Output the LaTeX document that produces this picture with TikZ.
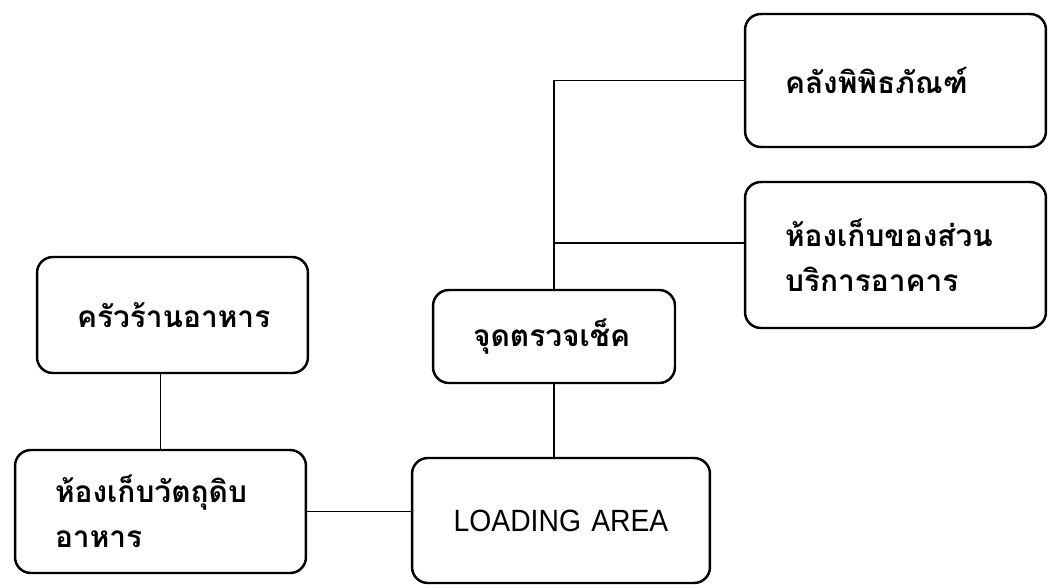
\documentclass[tikz,border=0pt]{standalone}
\usepackage{fontspec}
\setmainfont{Liberation Sans}
\newfontfamily\thaifont[Script=Thai]{Loma}
\newfontfamily\loadfont[FakeStretch=0.92]{Liberation Sans}

\begin{document}
\begin{tikzpicture}[x=0.02cm, y=-0.02cm,
    room/.style={draw, line width=1.4pt, rounded corners=9pt, inner xsep=0.8cm, inner ysep=0pt,
        align=left, font=\thaifont\bfseries\fontsize{17}{25.5}\selectfont},
    link/.style={line width=1.1pt}]
    \useasboundingbox (0,0) rectangle (1049,585);

    \node[room, text width=3.82cm, minimum height=2.32cm] (kitchen) at (172.5,315) {ครัวร้านอาหาร};
    \node[room, text width=4.22cm, minimum height=2.46cm] (rawstore) at (160.5,511.5) {ห้องเก็บวัตถุดิบ\\อาหาร};
    \node[room, text width=3.24cm, minimum height=1.86cm] (check) at (554,336.5) {จุดตรวจเช็ค};
    \node[room, inner xsep=0pt, text width=5.96cm, minimum height=2.5cm, align=center,
        font=\loadfont\fontsize{17.5}{20}\selectfont] (loading) at (561,520.5) {LOADING AREA};
    \node[room, text width=4.42cm, minimum height=2.66cm] (museum) at (895.5,80.5) {คลังพิพิธภัณฑ์};
    \node[room, text width=4.42cm, minimum height=2.92cm] (bldgstore) at (895.5,255) {ห้องเก็บของส่วน\\บริการอาคาร};

    \draw[link] (rawstore.north) -- (rawstore.north |- kitchen.south);
    \draw[link] (rawstore.east) -- (rawstore.east -| loading.west);
    \draw[link] (check.south) -- (check.south |- loading.north);
    \draw[link] (check.north) |- (museum.west);
    \coordinate (branch) at (check.north |- 0,243);
    \draw[link] (branch) -- (branch -| bldgstore.west);
\end{tikzpicture}
\end{document}
